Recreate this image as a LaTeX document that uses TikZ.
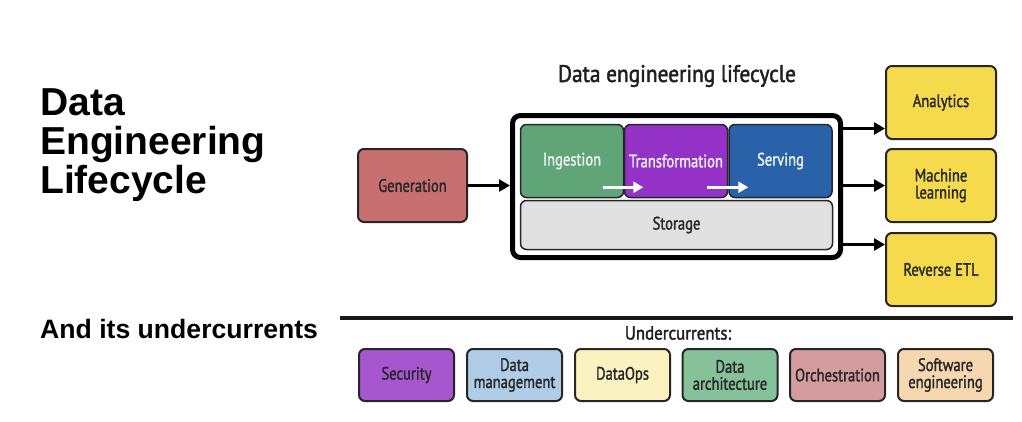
\documentclass[tikz,border=0pt]{standalone}
\usepackage{fontspec}
\setmainfont{Liberation Sans}
\newfontfamily\hfont{Liberation Sans}
\newfontfamily\cfont[FakeStretch=0.81,FakeBold=1.6]{PT Sans}
\newfontfamily\tfont[FakeStretch=0.89,FakeBold=1.8]{PT Sans}
\usetikzlibrary{arrows.meta,calc}
\definecolor{txt}{RGB}{40,40,40}
\definecolor{gen}{RGB}{200,112,112}
\definecolor{ing}{RGB}{95,165,120}
\definecolor{trf}{RGB}{148,50,200}
\definecolor{srv}{RGB}{42,98,170}
\definecolor{sto}{RGB}{224,224,224}
\definecolor{yel}{RGB}{245,218,75}
\definecolor{sec}{RGB}{166,87,208}
\definecolor{dmg}{RGB}{176,205,232}
\definecolor{dop}{RGB}{251,242,192}
\definecolor{dar}{RGB}{133,194,154}
\definecolor{orc}{RGB}{212,156,158}
\definecolor{swe}{RGB}{246,215,176}
\definecolor{lite}{RGB}{235,242,235}
\begin{document}
\begin{tikzpicture}[x=1pt,y=-1pt,
  box/.style={draw=black!85, line width=2pt, rounded corners=6pt, inner sep=0pt,
    align=center, font=\cfont\fontsize{18}{17}\selectfont, text=txt},
  stage/.style={box, line width=1.5pt, minimum width=103pt, minimum height=73pt, text=lite},
  ybox/.style={box, fill=yel, minimum width=110pt, minimum height=73pt},
  ubox/.style={box, minimum width=95pt, minimum height=52pt},
  arr/.style={line width=2.5pt, draw=black, -{Triangle[length=11pt,width=12pt]}},
  warr/.style={line width=2.5pt, draw=white, -{Triangle[length=10pt,width=11pt]}},
  bigt/.style={anchor=base west, inner sep=0pt, font=\hfont\bfseries\fontsize{39}{39}\selectfont}
]
\useasboundingbox[fill=white] (0,0) rectangle (1022,421);

% left titles
\node[bigt] (t1) at (40,115) {Data};
\node[bigt] (t2) at (40,154) {Engineering};
\node[bigt] (t3) at (40,193) {Lifecycle};
\node[bigt, font=\hfont\bfseries\fontsize{26.6}{26}\selectfont] (t4) at (40,338) {And its undercurrents};

% diagram title
\node[font=\tfont\fontsize{24}{24}\selectfont, text=black!88] (dt) at (677,76) {Data engineering lifecycle};

% lifecycle frame
\node[draw=black, line width=5pt, rounded corners=8pt, minimum width=328pt, minimum height=142pt] (lc) at (676.5,186.5) {};

% stages
\node[stage, fill=ing] (ing) at (572,161) {\raisebox{-2pt}{Ingestion}};
\node[stage, fill=trf] (trf) at (676,161) {\raisebox{-2pt}{Transformation}};
\node[stage, fill=srv] (srv) at (780.5,161) {\raisebox{-2pt}{Serving}};
\node[box, line width=1.5pt, fill=sto, minimum width=312pt, minimum height=49pt] (sto) at (676.5,225) {Storage};

\draw[warr] ([xshift=-21pt,yshift=11pt]ing.south east) -- ([xshift=19pt,yshift=11pt]ing.south east);
\draw[warr] ([xshift=-21pt,yshift=11pt]trf.south east) -- ([xshift=20pt,yshift=11pt]trf.south east);

% generation
\node[box, fill=gen, minimum width=109pt, minimum height=73pt] (gen) at (412.5,185.5) {Generation};
\draw[arr] (gen.east) -- (gen.east -| lc.west);

% outputs
\node[ybox] (an) at (941,102.5) {Analytics};
\node[ybox] (ml) at (941,185.5) {Machine\\learning};
\node[ybox] (re) at (941,269.5) {Reverse ETL};
\draw[arr] ([yshift=-15.5pt]lc.north east) -- ([yshift=-15.5pt]lc.north east -| an.west);
\draw[arr] (lc.east |- ml.west) -- (ml.west);
\draw[arr] ([yshift=15.5pt]lc.south east) -- ([yshift=15.5pt]lc.south east -| re.west);

% separator
\coordinate (s1) at (340,318);
\coordinate (s2) at (1013,318);
\draw[line width=3.5pt, black!90] (s1) -- (s2);

\node[font=\tfont\fontsize{19}{19}\selectfont, text=black!88] (uc) at (678,333) {Undercurrents:};

% undercurrents
\node[ubox, fill=sec] (u1) at (406.5,375) {Security};
\node[ubox, fill=dmg] (u2) at (514.5,375) {Data\\management};
\node[ubox, fill=dop] (u3) at (622.5,375) {DataOps};
\node[ubox, fill=dar] (u4) at (730,375) {Data\\architecture};
\node[ubox, fill=orc] (u5) at (837.5,375) {Orchestration};
\node[ubox, fill=swe] (u6) at (945.5,375) {Software\\engineering};
\end{tikzpicture}
\end{document}
